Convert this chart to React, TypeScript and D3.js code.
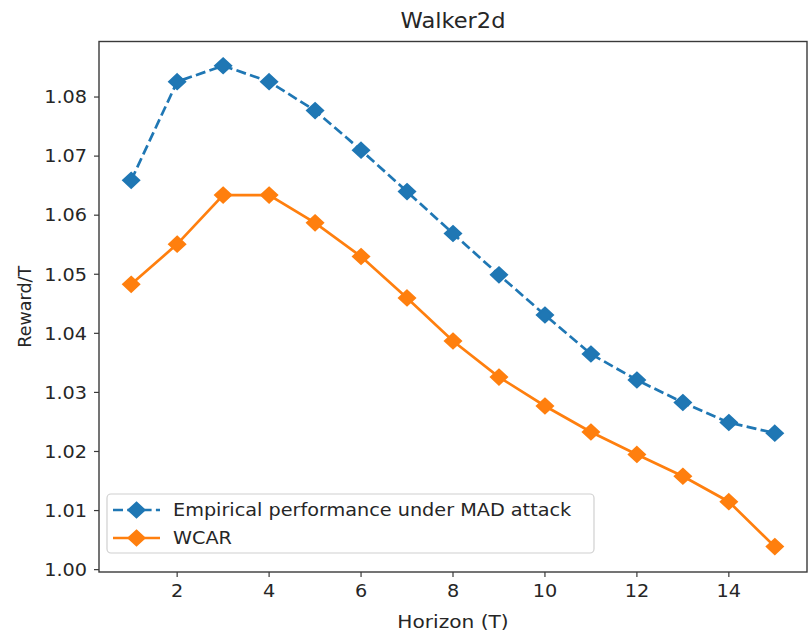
import React from 'react';
import * as d3 from 'd3';

const horizons = [1, 2, 3, 4, 5, 6, 7, 8, 9, 10, 11, 12, 13, 14, 15];
const madAttack = [1.0659, 1.0826, 1.0853, 1.0826, 1.0777, 1.071, 1.064, 1.0569, 1.0499, 1.0431, 1.0365, 1.0321, 1.0283, 1.0249, 1.0231];
const wcar = [1.0483, 1.0551, 1.0634, 1.0634, 1.0587, 1.053, 1.046, 1.0387, 1.0326, 1.0277, 1.0233, 1.0195, 1.0158, 1.0115, 1.0039];
const xTicks = [2, 4, 6, 8, 10, 12, 14];
const yTicks = [1.0, 1.01, 1.02, 1.03, 1.04, 1.05, 1.06, 1.07, 1.08];

const W = 808;
const H = 634;
const left = 99;
const right = 807;
const top = 41.5;
const bottom = 572;
const font = 'DejaVu Sans, sans-serif';
const textColor = '#262626';
// the picture is a little wider than tall, so text gets stretched sideways
const sx = 1.1;

const blue = '#1f77b4';
const orange = '#ff7f0e';

const x = d3.scaleLinear().domain([0.3, 15.7]).range([left, right]);
const y = d3.scaleLinear().domain([0.9996, 1.0894]).range([bottom, top]);

const line = d3
  .line<number>()
  .x((d, i) => x(horizons[i]))
  .y((d) => y(d));

const diamond = (cx: number, cy: number) =>
  `M${cx},${cy - 7.6}L${cx + 8.2},${cy}L${cx},${cy + 7.6}L${cx - 8.2},${cy}Z`;

const Txt = ({ x, y, anchor, size, dy, scale, children }: any) => (
  <text
    transform={`translate(${x},${y}) scale(${scale || sx},1)`}
    dy={dy}
    textAnchor={anchor}
    fontFamily={font}
    fontSize={size || 17.5}
    fill={textColor}
  >
    {children}
  </text>
);

const Series = ({ values, color, dash }: { values: number[]; color: string; dash?: string }) => (
  <g>
    <path d={line(values) || ''} fill="none" stroke={color} strokeWidth={2.7} strokeDasharray={dash} />
    {values.map((v, i) => (
      <path key={i} d={diamond(x(horizons[i]), y(v))} fill={color} stroke={color} strokeWidth={1.8} />
    ))}
  </g>
);

const App = () => {
  return (
    <svg width={W} height={H} style={{ position: 'absolute', left: 0, top: 0, background: 'white' }}>
      <Txt x={(left + right) / 2} y={28} anchor="middle" size={20.5}>
        Walker2d
      </Txt>

      <g>
        <Series values={madAttack} color={blue} dash="10,4.3" />
        <Series values={wcar} color={orange} />
      </g>

      {/* axes frame */}
      <rect x={left} y={top} width={right - left} height={bottom - top} fill="none" stroke="#3a3a3a" strokeWidth={1.4} />

      {yTicks.map((t) => (
        <g key={t}>
          <line x1={left - 5} x2={left} y1={y(t)} y2={y(t)} stroke="#3a3a3a" strokeWidth={1.2} />
          <Txt x={left - 12} y={y(t)} dy="0.36em" anchor="end">
            {t.toFixed(2)}
          </Txt>
        </g>
      ))}
      {xTicks.map((t) => (
        <g key={t}>
          <line x1={x(t)} x2={x(t)} y1={bottom} y2={bottom + 5} stroke="#3a3a3a" strokeWidth={1.2} />
          <Txt x={x(t)} y={bottom + 25} anchor="middle">
            {t}
          </Txt>
        </g>
      ))}

      <Txt x={(left + right) / 2} y={628} anchor="middle" scale={1.15}>
        Horizon (T)
      </Txt>
      <text
        transform={`translate(31,${(top + bottom) / 2}) rotate(-90)`}
        textAnchor="middle"
        fontFamily={font}
        fontSize={17.5}
        fill={textColor}
      >
        Reward/T
      </text>

      {/* legend */}
      <g>
        <rect x={107} y={494} width={487} height={59} rx={4} fill="white" fillOpacity={0.8} stroke="#d0d0d0" strokeWidth={1.2} />
        <line x1={113} x2={160} y1={510} y2={510} stroke={blue} strokeWidth={2.7} strokeDasharray="10,4.3" />
        <path d={diamond(136.5, 510)} fill={blue} stroke={blue} strokeWidth={1.8} />
        <Txt x={173} y={510} dy="0.36em" anchor="start">
          Empirical performance under MAD attack
        </Txt>
        <line x1={113} x2={160} y1={538} y2={538} stroke={orange} strokeWidth={2.7} />
        <path d={diamond(136.5, 538)} fill={orange} stroke={orange} strokeWidth={1.8} />
        <Txt x={173} y={538} dy="0.36em" anchor="start">
          WCAR
        </Txt>
      </g>
    </svg>
  );
};

export default App;
